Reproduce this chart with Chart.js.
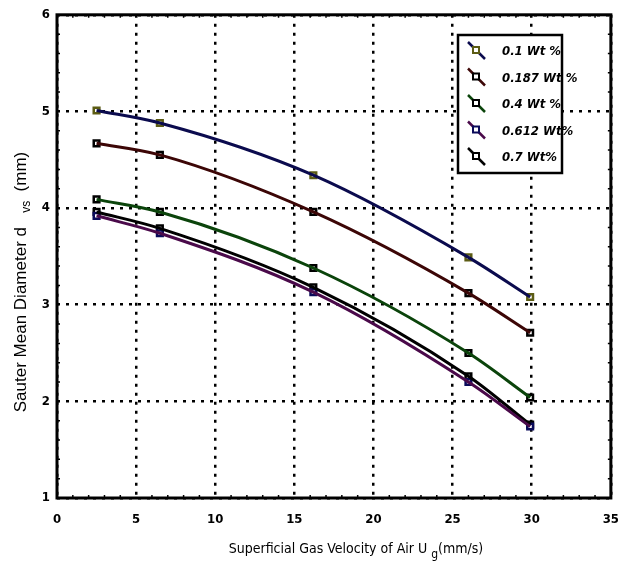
<!DOCTYPE html>
<html>
<head>
<meta charset="utf-8">
<script src="https://cdn.jsdelivr.net/npm/chart.js@4"></script>
<style>
  body { margin: 0; background: #fff; }
  canvas { display: block; }
</style>
</head>
<body>
<canvas id="c" width="633" height="574"></canvas>
<script>
// superficial gas velocity (mm/s)
const xVals = [2.5, 6.5, 16.2, 26, 29.9];
// Sauter mean diameter (mm) for each concentration
const wt01 = [5.01, 4.88, 4.34, 3.49, 3.08];
const wt0187 = [4.67, 4.55, 3.96, 3.12, 2.71];
const wt04 = [4.09, 3.96, 3.38, 2.50, 2.04];
const wt0612 = [3.92, 3.74, 3.13, 2.20, 1.74];
const wt07 = [3.96, 3.79, 3.18, 2.26, 1.76];
const seriesLabels = ['0.1 Wt %', '0.187 Wt %', '0.4 Wt %', '0.612 Wt%', '0.7 Wt%'];

const lineColors = ['#0b0b4e', '#3c0606', '#0b440b', '#4a0a4a', '#000000'];
const markColors = ['#5c5c14', '#000000', '#000000', '#0a0a5a', '#000000'];
const allY = [wt01, wt0187, wt04, wt0612, wt07];

const narrow = "'Liberation Sans Narrow', 'DejaVu Sans Condensed', 'Arial Narrow', sans-serif";

function pts(ys) {
  return xVals.map((x, i) => ({x: x, y: ys[i]}));
}

const datasets = [];
allY.forEach((ys, i) => {
  datasets.push({
    label: seriesLabels[i],
    data: pts(ys),
    showLine: false,
    pointStyle: 'rect',
    pointRadius: 4,
    pointBorderWidth: 2.5,
    pointBorderColor: markColors[i],
    pointBackgroundColor: '#fff',
    order: 2
  });
  datasets.push({
    label: seriesLabels[i] + ' fit',
    data: pts(ys),
    showLine: true,
    borderColor: lineColors[i],
    borderWidth: 3,
    pointRadius: 0,
    cubicInterpolationMode: 'monotone',
    fill: false,
    order: 1
  });
});

const framePlugin = {
  id: 'frame',
  afterDatasetsDraw(chart) {
    const {ctx, chartArea: a, scales} = chart;
    ctx.save();
    ctx.strokeStyle = '#000';
    ctx.lineWidth = 1.5;
    ctx.beginPath();
    for (let v = 1; v < 35; v++) {
      if (v % 5 === 0) continue;
      const px = scales.x.getPixelForValue(v);
      ctx.moveTo(px, a.bottom); ctx.lineTo(px, a.bottom - 3);
      ctx.moveTo(px, a.top); ctx.lineTo(px, a.top + 3);
    }
    for (let k = 1; k < 25; k++) {
      if (k % 5 === 0) continue;
      const py = scales.y.getPixelForValue(1 + k * 0.2);
      ctx.moveTo(a.left, py); ctx.lineTo(a.left + 3, py);
      ctx.moveTo(a.right, py); ctx.lineTo(a.right - 3, py);
    }
    ctx.stroke();
    ctx.lineWidth = 3;
    ctx.strokeRect(a.left, a.top, a.right - a.left, a.bottom - a.top);
    ctx.restore();
  },
  afterDraw(chart) {
    const {ctx} = chart;
    ctx.save();
    // legend box
    const bx = 458, by = 35, bw = 104, bh = 138;
    ctx.fillStyle = '#fff';
    ctx.fillRect(bx, by, bw, bh);
    ctx.strokeStyle = '#000';
    ctx.lineWidth = 2.5;
    ctx.strokeRect(bx, by, bw, bh);
    seriesLabels.forEach((lab, i) => {
      const cy = 50 + i * 26.5;
      const cx = 476;
      ctx.strokeStyle = lineColors[i];
      ctx.lineWidth = 2.5;
      ctx.beginPath();
      ctx.moveTo(cx - 8, cy - 8);
      ctx.lineTo(cx + 9, cy + 9);
      ctx.stroke();
      ctx.fillStyle = '#fff';
      ctx.fillRect(cx - 3, cy - 3, 6, 6);
      ctx.strokeStyle = markColors[i];
      ctx.lineWidth = 2;
      ctx.strokeRect(cx - 3, cy - 3, 6, 6);
      ctx.fillStyle = '#000';
      ctx.font = "italic bold 13px " + narrow;
      ctx.textBaseline = 'middle';
      ctx.textAlign = 'left';
      ctx.fillText(lab, 502, cy + 2);
    });

    // x axis title with subscript
    ctx.fillStyle = '#000';
    ctx.textBaseline = 'alphabetic';
    ctx.textAlign = 'left';
    const xMain = 'Superficial Gas Velocity of Air U ';
    const xSub = 'g';
    const xEnd = '(mm/s)';
    ctx.font = "14px " + narrow;
    const w1 = ctx.measureText(xMain).width;
    const w3 = ctx.measureText(xEnd).width;
    ctx.font = "12px " + narrow;
    const w2 = ctx.measureText(xSub).width;
    const sx = 356 - (w1 + w2 + w3) / 2;
    const ty = 553;
    ctx.font = "14px " + narrow;
    ctx.fillText(xMain, sx, ty);
    ctx.font = "12px " + narrow;
    ctx.fillText(xSub, sx + w1, ty + 5);
    ctx.font = "14px " + narrow;
    ctx.fillText(xEnd, sx + w1 + w2, ty);

    // y axis title with subscript
    ctx.translate(26, 282);
    ctx.rotate(-Math.PI / 2);
    const yMain = 'Sauter Mean Diameter d   ';
    const ySub = 'vs';
    const yEnd = '  (mm)';
    const yf = "17px 'Liberation Sans', Arial, sans-serif";
    const ysf = "12px 'Liberation Sans', Arial, sans-serif";
    ctx.font = yf;
    const v1 = ctx.measureText(yMain).width;
    const v3 = ctx.measureText(yEnd).width;
    ctx.font = ysf;
    const v2 = ctx.measureText(ySub).width;
    const sy = -(v1 + v2 + v3) / 2;
    ctx.font = yf;
    ctx.fillText(yMain, sy, 0);
    ctx.font = ysf;
    ctx.fillText(ySub, sy + v1, 4);
    ctx.font = yf;
    ctx.fillText(yEnd, sy + v1 + v2, 0);
    ctx.restore();
  }
};

new Chart(document.getElementById('c'), {
  type: 'scatter',
  data: { datasets: datasets },
  plugins: [framePlugin],
  options: {
    responsive: false,
    devicePixelRatio: 1,
    animation: false,
    layout: { padding: { top: 13, right: 20, left: 0, bottom: 0 } },
    plugins: {
      legend: { display: false },
      tooltip: { enabled: false }
    },
    scales: {
      x: {
        type: 'linear',
        min: 0,
        max: 35,
        afterFit: (s) => { s.height = 76; },
        grid: { color: '#000', lineWidth: 2.5, drawTicks: false },
        border: { display: false, dash: [3, 6] },
        ticks: {
          stepSize: 5,
          padding: 14,
          color: '#000',
          font: { family: narrow, size: 13, weight: 'bold' }
        }
      },
      y: {
        type: 'linear',
        min: 1,
        max: 6,
        afterFit: (s) => { s.width = 57; },
        grid: { color: '#000', lineWidth: 2.5, drawTicks: false },
        border: { display: false, dash: [3, 6] },
        ticks: {
          stepSize: 1,
          padding: 7,
          color: '#000',
          font: { family: narrow, size: 13, weight: 'bold' }
        }
      }
    }
  }
});
</script>
</body>
</html>
